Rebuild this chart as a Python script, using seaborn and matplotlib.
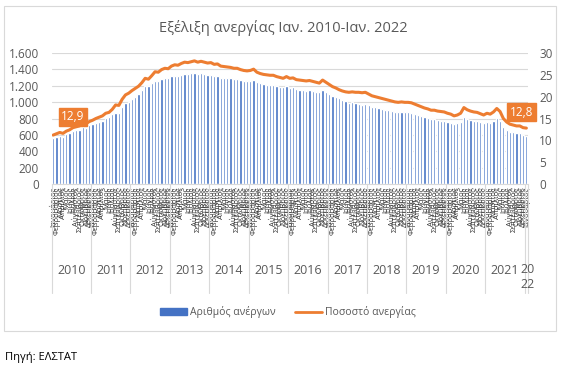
import numpy as np
import pandas as pd
import matplotlib
matplotlib.use("Agg")
import matplotlib.pyplot as plt
import seaborn as sns
from matplotlib.patches import Patch, Rectangle
from matplotlib.lines import Line2D
import matplotlib.transforms as mtransforms

sns.set_style("white")
plt.rcParams['font.family'] = ['Open Sans', 'DejaVu Sans']

months = ["Ιανουάριος", "Φεβρουάριος", "Μάρτιος", "Απρίλιος", "Μάιος", "Ιούνιος",
          "Ιούλιος", "Αύγουστος", "Σεπτέμβριος", "Οκτώβριος", "Νοέμβριος", "Δεκέμβριος"]
years = ["2010", "2011", "2012", "2013", "2014", "2015", "2016", "2017",
         "2018", "2019", "2020", "2021", "20\n22"]

unemployed = [
    560, 575, 585, 580, 605, 620, 645, 655, 665, 695, 690, 715,
    730, 745, 760, 775, 805, 815, 850, 870, 865, 935, 985, 1005,
    1040, 1065, 1100, 1150, 1200, 1200, 1230, 1260, 1255, 1280, 1295, 1290,
    1315, 1325, 1320, 1335, 1345, 1340, 1350, 1355, 1345, 1350, 1340, 1335,
    1335, 1320, 1325, 1300, 1300, 1295, 1290, 1280, 1280, 1270, 1260, 1255,
    1258, 1265, 1240, 1230, 1220, 1215, 1210, 1205, 1195, 1190, 1180, 1195,
    1175, 1180, 1160, 1150, 1148, 1140, 1145, 1135, 1125, 1120, 1150, 1125,
    1100, 1075, 1060, 1045, 1030, 1015, 995, 1000, 985, 980, 970, 975,
    960, 945, 935, 925, 915, 905, 900, 890, 880, 875, 880, 875,
    875, 870, 855, 840, 825, 815, 805, 790, 790, 780, 775, 770,
    755, 745, 730, 740, 760, 820, 795, 780, 770, 765, 755, 740,
    760, 750, 770, 805, 775, 700, 665, 640, 630, 620, 620, 600,
    590,
]
rate = [
    11.2, 11.5, 11.8, 11.6, 12.1, 12.4, 12.9, 13.1, 13.3, 13.9, 13.8, 14.3,
    14.6, 15.0, 15.3, 15.6, 16.2, 16.4, 17.1, 18.1, 18.0, 19.4, 20.4, 20.8,
    21.4, 21.9, 22.4, 23.2, 24.2, 24.0, 24.8, 25.7, 25.6, 26.2, 26.5, 26.4,
    27.0, 27.3, 27.2, 27.6, 27.9, 27.8, 28.0, 28.2, 27.9, 28.1, 27.9, 27.7,
    27.8, 27.4, 27.5, 27.0, 26.9, 26.8, 26.7, 26.5, 26.5, 26.2, 26.0, 25.9,
    26.0, 26.3, 25.6, 25.3, 25.1, 25.0, 24.9, 24.9, 24.6, 24.4, 24.2, 24.6,
    24.2, 24.3, 23.9, 23.8, 23.7, 23.6, 23.7, 23.5, 23.3, 23.1, 23.8, 23.3,
    22.8, 22.3, 22.0, 21.6, 21.3, 21.1, 21.0, 21.1, 21.0, 21.0, 20.9, 21.0,
    20.6, 20.2, 20.0, 19.8, 19.6, 19.4, 19.2, 19.0, 18.8, 18.7, 18.8, 18.7,
    18.7, 18.6, 18.3, 18.0, 17.7, 17.4, 17.2, 16.9, 16.9, 16.7, 16.6, 16.5,
    16.2, 16.0, 15.6, 15.8, 16.2, 17.5, 17.0, 16.7, 16.5, 16.4, 16.1, 15.8,
    16.2, 16.0, 16.5, 17.3, 16.6, 15.0, 14.2, 13.7, 13.5, 13.3, 13.3, 12.9,
    12.8,
]
left_ticks = [0, 200, 400, 600, 800, 1000, 1200, 1400, 1600]
right_ticks = [0, 5, 10, 15, 20, 25, 30]
labelled_points = [6, 144]
label_texts = ["12,9", "12,8"]

n = len(rate)
idx = np.arange(n)
month_labels = [months[i % 12] for i in idx]
df = pd.DataFrame({"idx": idx, "unemployed": unemployed, "rate": rate})

GRAY = "#595959"
BLUE = "#4472C4"
ORANGE = "#ED7D31"

W, H = 566, 378
fig = plt.figure(figsize=(W / 100, H / 100), dpi=100)
fig.patch.set_facecolor("white")

# chart border
fig.patches.append(Rectangle((4 / W, 1 - 331 / H), 552 / W, 325 / H,
                             transform=fig.transFigure, fill=False,
                             edgecolor="#D9D9D9", lw=0.8))

ax_l, ax_r = 51.5, 528
ax_t, ax_b = 53, 184
ax = fig.add_axes([ax_l / W, 1 - ax_b / H, (ax_r - ax_l) / W, (ax_b - ax_t) / H])

sns.barplot(data=df, x="idx", y="unemployed", ax=ax, color=BLUE, width=0.68,
            saturation=1, zorder=2)
ax.set_xlim(-0.5, n - 0.5)
ax.set_ylim(0, 1600)
ax.set_yticks(left_ticks)
ax.set_yticklabels([f"{v:,}".replace(",", ".") for v in left_ticks],
                   fontsize=8.5, color=GRAY)
ax.yaxis.grid(True, color="#D9D9D9", lw=0.8, zorder=0)
ax.set_axisbelow(True)
ax.set_xticks(idx)
ax.set_xticklabels(month_labels, rotation=90, fontsize=5.5, color="#333333")
ax.tick_params(axis="y", length=0, pad=9)
ax.tick_params(axis="x", length=0, pad=2)
ax.set_xlabel("")
ax.set_ylabel("")
for s in ["top", "left", "right"]:
    ax.spines[s].set_visible(False)
ax.spines["bottom"].set_color("#D9D9D9")

ax2 = ax.twinx()
sns.lineplot(data=df, x="idx", y="rate", ax=ax2, color=ORANGE, lw=2.2, zorder=3)
ax2.set_ylim(0, 30)
ax2.set_yticks(right_ticks)
ax2.set_yticklabels([str(v) for v in right_ticks], fontsize=8.5, color=GRAY)
ax2.tick_params(axis="y", length=0, pad=8)
ax2.set_xlim(-0.5, n - 0.5)
ax2.set_ylabel("")
ax2.set_xlabel("")
for s in ax2.spines.values():
    s.set_visible(False)

# data labels
offsets = [(0, 2.5), (-1.5, 3.6)]
for p, t, (dx, dy) in zip(labelled_points, label_texts, offsets):
    ax2.text(p + dx, rate[p] + dy, t, ha="center", va="center", color="white",
             fontsize=8.5, zorder=6, clip_on=False,
             bbox=dict(boxstyle="square,pad=0.22", fc=ORANGE, ec=ORANGE))

# year group labels and separators
trans = mtransforms.blended_transform_factory(ax.transData, ax.transAxes)
sep_bottom = -(293 - ax_b) / (ax_b - ax_t)
for k in range(len(years) + 1):
    xpos = min(k * 12, n) - 0.5
    ax.plot([xpos, xpos], [0, sep_bottom], transform=trans, color="#D9D9D9",
            lw=0.8, clip_on=False)
year_y = -(270 - ax_b) / (ax_b - ax_t)
top_y = -(263 - ax_b) / (ax_b - ax_t)
for k, y in enumerate(years):
    start = k * 12
    end = min(start + 12, n)
    xc = (start + end - 1) / 2
    if "\n" in y:
        ax.text(xc + 0.5, top_y, y, transform=trans, ha="center", va="top",
                fontsize=9, color=GRAY, linespacing=1.25)
    else:
        ax.text(xc, year_y, y, transform=trans, ha="center", va="center",
                fontsize=9, color=GRAY)

# title
fig.text(283 / W, 1 - 28 / H, "Εξέλιξη ανεργίας Ιαν. 2010-Ιαν. 2022",
         ha="center", va="center", fontsize=10.5, color=GRAY)

# legend
handles = [Patch(facecolor=BLUE, edgecolor=BLUE),
           Line2D([0], [0], color=ORANGE, lw=2)]
fig.legend(handles, ["Αριθμός ανέργων", "Ποσοστό ανεργίας"],
           loc="center", bbox_to_anchor=(288 / W, 1 - 312 / H), ncol=2,
           frameon=False, fontsize=7.5, labelcolor=GRAY, handlelength=2.6,
           handleheight=0.6, handletextpad=0.3, columnspacing=1.8)

# source
fig.text(5 / W, 1 - 357 / H, "Πηγή: ΕΛΣΤΑΤ", ha="left", va="center",
         fontsize=8, color="black")

fig.savefig("out.png", dpi=100)
